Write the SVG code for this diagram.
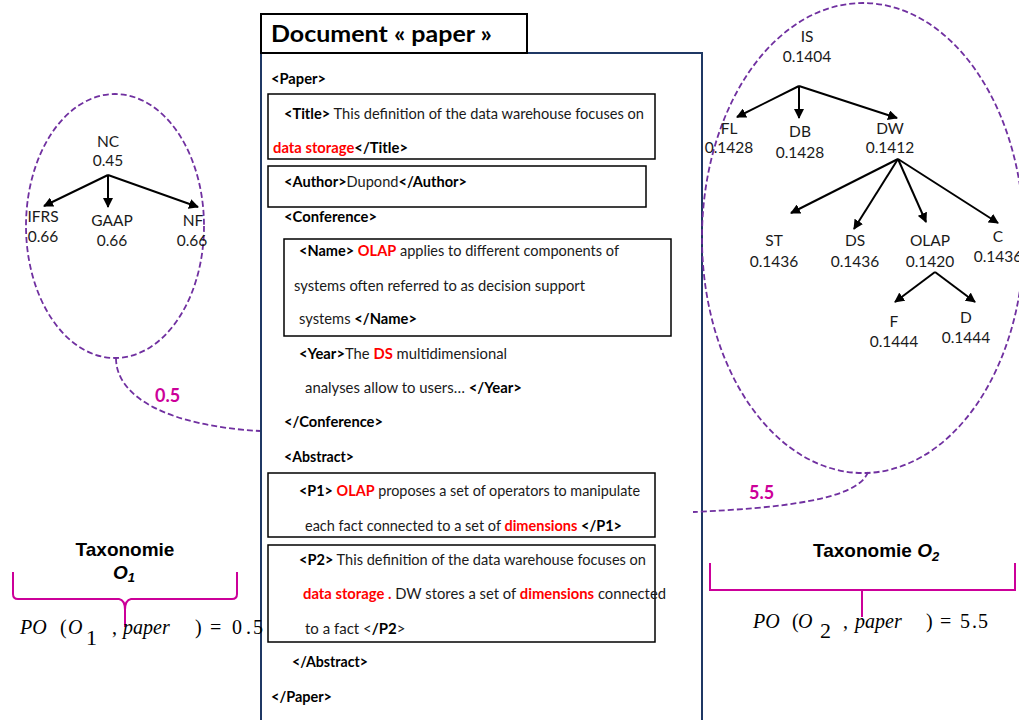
<svg xmlns="http://www.w3.org/2000/svg" width="1019" height="720" viewBox="0 0 1019 720">
<defs>
<marker id="ah" viewBox="0 0 10 10" refX="9" refY="5" markerWidth="10" markerHeight="10" markerUnits="userSpaceOnUse" orient="auto">
<path d="M0,0 L10,5 L0,10 Z" fill="#000"/>
</marker>
<style>
.doc{font-family:Lato,"Open Sans",sans-serif;font-size:15px;fill:#1a1a1a}
.b{font-weight:bold;fill:#000}
.r{font-weight:bold;fill:#ff0000}
.lbl{font-family:Lato,"Open Sans",sans-serif;font-size:15.5px;fill:#1a1a1a;text-anchor:middle}
.edge{stroke:#000;stroke-width:2;fill:none;marker-end:url(#ah)}
.dash{stroke:#7030a0;stroke-width:1.8;fill:none;stroke-dasharray:6 3}
.mag{font-family:Lato,"Open Sans",sans-serif;font-size:18px;font-weight:bold;fill:#cc0099}
.tax{font-family:"Liberation Sans",Arial,sans-serif;font-size:19px;font-weight:bold;fill:#000}
.brace{stroke:#cc0099;stroke-width:2;fill:none}
.f{font-family:"Liberation Serif","Times New Roman",serif;font-size:20px;fill:#000}
.i{font-style:italic}
.box{fill:none;stroke:#000;stroke-width:1.5}
</style>
</defs>
<rect width="1019" height="720" fill="#fff"/>

<g id="document">
<rect x="261" y="53" width="441" height="670" fill="#fff" stroke="#1f3864" stroke-width="2"/>
<rect x="261" y="14" width="266" height="39" fill="#fff" stroke="#000" stroke-width="2"/>
<text x="271" y="42" font-family="Lato,'Open Sans',sans-serif" font-size="23" font-weight="bold" fill="#000" textLength="221" lengthAdjust="spacingAndGlyphs">Document « paper »</text>
<rect class="box" x="268" y="94" width="387" height="65"/>
<rect class="box" x="268" y="166" width="378" height="41"/>
<rect class="box" x="284" y="239" width="387" height="97"/>
<rect class="box" x="268" y="473" width="387" height="64"/>
<rect class="box" x="268" y="545" width="387" height="97"/>
<g class="doc" xml:space="preserve">
<text x="271" y="84" textLength="55" lengthAdjust="spacingAndGlyphs"><tspan class="b">&lt;Paper&gt;</tspan></text>
<text x="284" y="119" textLength="360" lengthAdjust="spacingAndGlyphs"><tspan class="b">&lt;Title&gt;</tspan> This definition of the data warehouse focuses on</text>
<text x="273" y="153" textLength="135" lengthAdjust="spacingAndGlyphs"><tspan class="r">data storage</tspan><tspan class="b">&lt;/Title&gt;</tspan></text>
<text x="284" y="187" textLength="183" lengthAdjust="spacingAndGlyphs"><tspan class="b">&lt;Author&gt;</tspan>Dupond<tspan class="b">&lt;/Author&gt;</tspan></text>
<text x="284" y="222" textLength="93" lengthAdjust="spacingAndGlyphs"><tspan class="b">&lt;Conference&gt;</tspan></text>
<text x="299" y="256" textLength="320" lengthAdjust="spacingAndGlyphs"><tspan class="b">&lt;Name&gt;</tspan> <tspan class="r">OLAP</tspan> applies to different components of</text>
<text x="294" y="291" textLength="291" lengthAdjust="spacingAndGlyphs">systems often referred to as decision support</text>
<text x="299" y="324" textLength="118" lengthAdjust="spacingAndGlyphs">systems <tspan class="b">&lt;/Name&gt;</tspan></text>
<text x="299" y="359" textLength="208" lengthAdjust="spacingAndGlyphs"><tspan class="b">&lt;Year&gt;</tspan>The <tspan class="r">DS</tspan>  multidimensional</text>
<text x="305" y="393" textLength="217" lengthAdjust="spacingAndGlyphs">analyses  allow to users… <tspan class="b">&lt;/Year&gt;</tspan></text>
<text x="284" y="427" textLength="99" lengthAdjust="spacingAndGlyphs"><tspan class="b">&lt;/Conference&gt;</tspan></text>
<text x="284" y="462" textLength="70" lengthAdjust="spacingAndGlyphs"><tspan class="b">&lt;Abstract&gt;</tspan></text>
<text x="299" y="496" textLength="341" lengthAdjust="spacingAndGlyphs"><tspan class="b">&lt;P1&gt;</tspan> <tspan class="r">OLAP</tspan> proposes a set of operators to manipulate</text>
<text x="305" y="531" textLength="317" lengthAdjust="spacingAndGlyphs">each fact connected to a set of <tspan class="r">dimensions</tspan> <tspan class="b">&lt;/P1&gt;</tspan></text>
<text x="299" y="565" textLength="347" lengthAdjust="spacingAndGlyphs"><tspan class="b">&lt;P2&gt;</tspan> This definition of the data warehouse focuses on</text>
<text x="303" y="599" textLength="363" lengthAdjust="spacingAndGlyphs"><tspan class="r">data storage .</tspan>  DW stores  a set of <tspan class="r">dimensions</tspan> connected</text>
<text x="305" y="634">to a fact &lt;<tspan class="b">/P2</tspan>&gt;</text>
<text x="292" y="667" textLength="76" lengthAdjust="spacingAndGlyphs"><tspan class="b">&lt;/Abstract&gt;</tspan></text>
<text x="271" y="702" textLength="61" lengthAdjust="spacingAndGlyphs"><tspan class="b">&lt;/Paper&gt;</tspan></text>
</g>
</g>

<g id="connectors">
<ellipse class="dash" cx="115" cy="226" rx="89" ry="132"/>
<ellipse class="dash" cx="863" cy="238" rx="161" ry="235"/>
<path class="dash" d="M116,358 C116,398 170,426 260,431"/>
<path class="dash" d="M868,472 C858,500 780,508 693,512"/>
<path class="edge" d="M108,175 L44,206"/>
<path class="edge" d="M108,175 L108,207"/>
<path class="edge" d="M108,175 L198,207"/>
<path class="edge" d="M799,86 L737,117"/>
<path class="edge" d="M799,86 L799,118"/>
<path class="edge" d="M799,86 L897,118"/>
<path class="edge" d="M898,159 L791,213"/>
<path class="edge" d="M898,159 L854,229"/>
<path class="edge" d="M898,159 L926,222"/>
<path class="edge" d="M898,159 L998,223"/>
<path class="edge" d="M935,272 L895,302"/>
<path class="edge" d="M935,272 L975,302"/>
</g>

<g id="tax1">
<text class="lbl" x="108" y="147">NC</text>
<text class="lbl" x="108" y="166">0.45</text>
<text class="lbl" x="43" y="222">IFRS</text>
<text class="lbl" x="43" y="242">0.66</text>
<text class="lbl" x="112" y="226">GAAP</text>
<text class="lbl" x="112" y="246">0.66</text>
<text class="lbl" x="193" y="226">NF</text>
<text class="lbl" x="192" y="246">0.66</text>
<text class="mag" x="155" y="402">0.5</text>
</g>

<g id="tax2">
<text class="lbl" x="807" y="42">IS</text>
<text class="lbl" x="807" y="62">0.1404</text>
<text class="lbl" x="729" y="134">FL</text>
<text class="lbl" x="729" y="153">0.1428</text>
<text class="lbl" x="800" y="137">DB</text>
<text class="lbl" x="800" y="158">0.1428</text>
<text class="lbl" x="890" y="134">DW</text>
<text class="lbl" x="890" y="153">0.1412</text>
<text class="lbl" x="774" y="246">ST</text>
<text class="lbl" x="774" y="267">0.1436</text>
<text class="lbl" x="855" y="246">DS</text>
<text class="lbl" x="855" y="267">0.1436</text>
<text class="lbl" x="930" y="246">OLAP</text>
<text class="lbl" x="930" y="267">0.1420</text>
<text class="lbl" x="998" y="242">C</text>
<text class="lbl" x="998" y="262">0.1436</text>
<text class="lbl" x="894" y="327">F</text>
<text class="lbl" x="894" y="347">0.1444</text>
<text class="lbl" x="966" y="323">D</text>
<text class="lbl" x="966" y="343">0.1444</text>
<text class="mag" x="749" y="499">5.5</text>
</g>

<g id="label1">
<text class="tax" x="125" y="556" text-anchor="middle">Taxonomie</text>
<text class="tax" x="113" y="579"><tspan class="i">O</tspan><tspan class="i" font-size="13" dy="3">1</tspan></text>
<path class="brace" d="M13,572 V594 Q13,599 18,599 H119 Q125,600 125,610 V627 M125,610 Q125,600 131,599 H232 Q237,599 237,594 V572"/>
<text class="f" y="634"><tspan class="i" x="20">PO</tspan><tspan x="60">(</tspan><tspan class="i" x="68">O</tspan><tspan x="86" y="645" font-size="22">1</tspan><tspan x="112" y="634">,</tspan><tspan class="i" x="123">paper</tspan><tspan x="195">)</tspan><tspan x="210">=</tspan><tspan x="232">0</tspan><tspan x="246">.</tspan><tspan x="253">5</tspan></text>
</g>

<g id="label2">
<text class="tax" x="813" y="557">Taxonomie <tspan class="i">O</tspan><tspan class="i" font-size="13" dy="4">2</tspan></text>
<path class="brace" d="M710,563 V590 H1015 V563 M862,590 V617"/>
<text class="f" y="628"><tspan class="i" x="753">PO</tspan><tspan x="792">(</tspan><tspan class="i" x="798">O</tspan><tspan x="820" y="638" font-size="22">2</tspan><tspan x="843" y="628">,</tspan><tspan class="i" x="855">paper</tspan><tspan x="926">)</tspan><tspan x="940">=</tspan><tspan x="960">5</tspan><tspan x="972">.</tspan><tspan x="978">5</tspan></text>
</g>
</svg>
